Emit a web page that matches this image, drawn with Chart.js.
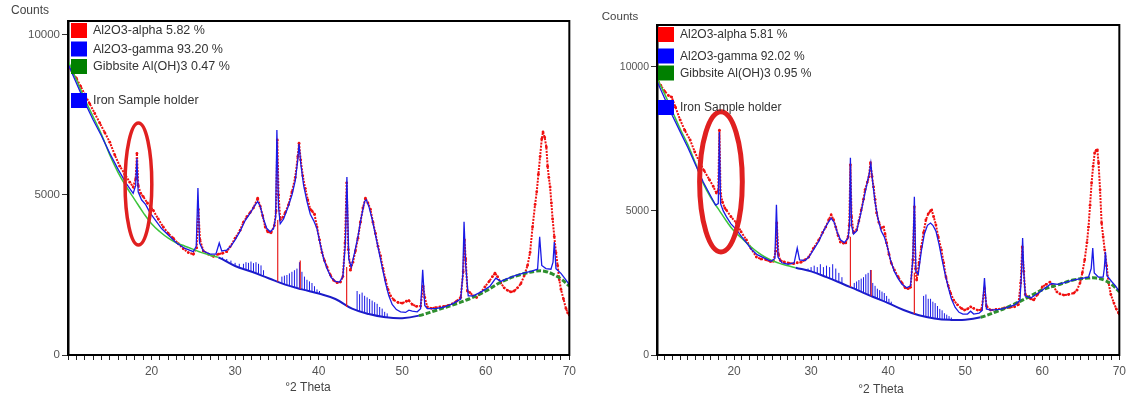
<!DOCTYPE html>
<html><head><meta charset="utf-8">
<script src="https://cdn.jsdelivr.net/npm/chart.js@4.4.1/dist/chart.umd.min.js"></script>
<style>
html,body{margin:0;padding:0;background:#fff;width:1130px;height:401px;overflow:hidden}
#l{position:absolute;left:0;top:0;width:580px;height:401px}
#r{position:absolute;left:580px;top:0;width:550px;height:401px}
</style></head><body>
<div id="l"><canvas id="cl"></canvas></div>
<div id="r"><canvas id="cr"></canvas></div>
<script>
// ---------- shared ----------
const xTickLabels = [20, 30, 40, 50, 60, 70];
const yTickValues = [0, 5000, 10000];
const xAxisTitle = "°2 Theta";
const yAxisTitle = "Counts";

// ---------- LEFT panel ----------
const legendL = ["Al2O3-alpha 5.82 %", "Al2O3-gamma 93.20 %", "Gibbsite Al(OH)3 0.47 %", "Iron Sample holder"];
const obsLx = [10.0,10.5,11.0,11.5,12.0,12.6,13.2,13.8,14.4,15.0,15.6,16.2,16.8,17.4,17.8,18.1,18.25,18.4,18.7,19.0,19.5,20.2,20.8,21.4,22.0,22.6,23.2,23.8,24.4,25.0,25.4,25.6,25.8,26.2,26.8,27.4,28.0,28.5,29.0,29.4,30.0,30.6,31.0,31.4,31.8,32.2,32.7,33.0,33.3,33.6,33.9,34.3,34.7,34.9,35.05,35.2,35.4,35.7,36.0,36.4,36.8,37.2,37.5,37.65,37.85,38.1,38.4,38.7,39.0,39.2,39.5,39.8,40.1,40.4,40.7,41.0,41.4,41.8,42.2,42.6,42.9,43.15,43.35,43.55,43.8,44.1,44.4,44.7,45.0,45.3,45.6,45.9,46.2,46.5,46.8,47.1,47.4,47.7,48.0,48.3,48.6,49.0,49.5,50.0,50.5,50.8,51.2,51.7,52.2,52.5,52.7,53.0,53.5,54.0,54.5,55.0,55.5,56.0,56.5,57.0,57.3,57.45,57.6,57.8,58.1,58.5,58.9,59.4,59.9,60.4,60.8,61.1,61.4,61.8,62.2,62.6,63.0,63.4,63.8,64.2,64.6,65.0,65.3,65.6,65.9,66.1,66.3,66.5,66.7,66.85,67.05,67.25,67.4,67.55,67.7,67.85,68.0,68.2,68.4,68.6,68.8,69.0,69.3,69.6,69.8,70.0];
const obsLy = [9050,8850,8650,8400,8150,7850,7550,7250,6950,6650,6250,5900,5650,5400,5250,5500,6300,5300,5050,4950,4750,4520,4250,4000,3800,3650,3480,3320,3200,3150,3350,4550,3600,3250,3150,3080,3150,3180,3230,3380,3650,3900,4150,4320,4450,4600,4900,4650,4350,4000,3850,3820,4050,4500,6720,5000,4230,4300,4450,4700,5100,5550,6200,6620,6100,5600,5200,4850,4550,4500,4400,4000,3600,3200,2950,2750,2500,2330,2260,2280,2450,3500,5380,3300,2650,2900,3250,3650,4150,4600,4900,4750,4550,4150,3800,3400,3100,2700,2350,2050,1850,1720,1640,1620,1680,1700,1580,1520,1530,2150,1800,1500,1460,1480,1500,1520,1550,1600,1680,1800,2600,3600,3000,2000,1950,1850,1800,1950,2130,2300,2450,2560,2450,2250,2100,2020,1970,2000,2100,2230,2480,2800,3200,4000,4700,5100,5650,6200,6750,6970,6800,6500,5900,5550,5250,4750,4250,3700,3200,2800,2350,2050,1750,1450,1320,1250];
const calcLx = [10.0,11.0,12.0,13.0,14.0,15.0,16.0,17.0,17.8,18.1,18.25,18.4,18.8,19.3,19.8,20.5,21.2,22.0,23.0,24.0,25.0,25.35,25.55,25.75,26.2,27.0,27.7,28.1,28.4,29.0,29.5,30.0,30.6,31.2,31.8,32.3,32.7,33.0,33.4,33.8,34.2,34.6,34.85,35.0,35.2,35.4,35.8,36.3,36.8,37.2,37.5,37.65,37.85,38.2,38.6,39.0,39.4,39.8,40.2,40.6,41.0,41.5,42.0,42.5,42.9,43.2,43.38,43.6,43.9,44.3,44.7,45.1,45.5,45.7,46.0,46.4,46.8,47.2,47.6,48.0,48.4,48.8,49.3,49.8,50.4,50.8,51.2,51.8,52.2,52.45,52.7,53.0,54.0,55.0,56.0,57.0,57.25,57.4,57.6,57.9,58.5,59.5,60.5,61.2,61.8,62.5,63.5,64.5,65.5,66.2,66.45,66.7,67.2,67.8,68.05,68.2,68.4,69.0,69.5,70.0];
const calcLy = [9100,8500,7900,7350,6850,6300,5800,5350,5050,5300,6150,5100,4850,4700,4450,4200,3950,3750,3500,3330,3230,3400,5220,3500,3250,3150,3150,3500,3250,3280,3400,3600,3870,4200,4430,4650,4800,4650,4250,3950,3850,3950,4300,7030,4600,4100,4250,4600,5000,5450,6100,6600,6000,5300,4800,4400,4200,3950,3450,3000,2700,2420,2300,2280,2450,3500,5560,3000,2750,3200,3700,4300,4800,4850,4650,4250,3750,3250,2750,2250,1850,1580,1420,1350,1330,1400,1370,1350,1450,2660,1550,1450,1450,1500,1600,1750,2500,4160,2800,1850,1850,1980,2150,2400,2300,2380,2480,2560,2620,2680,3690,2800,2700,2680,2900,3530,2700,2550,2380,2200];
const bgLx = [10,11,12,13,14,15,16,17,18,19,20,21,22,23,24,25,26,27,28,30,32,34,36,38,40,42,44,46,48,50,52,54,56,58,60,62,64,66,67,68,69,70];
const bgLy = [9200,8600,8000,7450,6900,6250,5700,5250,4850,4450,4100,3850,3650,3500,3400,3300,3200,3120,3050,2780,2600,2400,2200,2050,1920,1750,1450,1280,1180,1150,1230,1390,1560,1750,2000,2300,2500,2620,2620,2530,2380,2150];
const gamLx = [28.5,29.0,29.5,30.0,30.5,31.0,31.3,31.6,31.9,32.2,32.5,32.8,33.1,33.4,35.6,35.9,36.2,36.5,36.8,37.1,37.4,37.7,38.0,38.3,38.6,38.9,39.2,39.5,39.8,40.1,44.6,44.9,45.2,45.5,45.8,46.1,46.4,46.7,47.0,47.3,47.6,47.9,48.2];
const gamLbase = [2990,2930,2860,2780,2740,2690,2660,2630,2610,2590,2570,2540,2510,2480,2240,2210,2180,2150,2120,2090,2070,2050,2040,2020,2000,1990,1970,1950,1930,1910,1400,1370,1350,1330,1310,1290,1270,1250,1230,1220,1200,1190,1180];
const gamLtop = [3050,3000,2950,2880,2850,2850,2900,2880,2920,2870,2900,2850,2800,2650,2450,2480,2500,2550,2600,2650,2700,2900,2600,2450,2350,2300,2250,2150,2050,2000,2000,1900,1950,1850,1800,1750,1700,1650,1600,1500,1450,1350,1300];
const alpLx = [35.1, 37.8, 43.35];
const alpLbase = [2290, 2065, 1500];
const alpLtop = [4220, 2950, 2750];
const ellipseL = {x: 18.43, y: 5344, rx: 1.6, ry: 1906};
const yMaxL = 10437;

// ---------- RIGHT panel ----------
const legendR = ["Al2O3-alpha 5.81 %", "Al2O3-gamma 92.02 %", "Gibbsite Al(OH)3 0.95 %", "Iron Sample holder"];
const obsRx = [10.0,10.5,11.0,11.5,11.9,12.4,13.0,13.6,14.3,14.9,15.5,16.1,16.8,17.3,17.7,17.95,18.1,18.25,18.5,18.8,19.0,19.6,20.3,20.9,21.6,22.2,22.9,23.5,24.2,24.7,25.1,25.4,25.55,25.75,26.0,26.5,27.1,27.7,28.2,28.7,29.2,29.7,30.3,31.0,31.5,31.9,32.3,32.6,32.9,33.2,33.5,33.8,34.2,34.5,34.8,34.95,35.1,35.25,35.5,35.9,36.2,36.5,36.8,37.0,37.3,37.5,37.7,37.9,38.1,38.3,38.5,38.8,39.1,39.4,39.6,39.8,40.1,40.4,40.8,41.3,41.8,42.2,42.6,42.9,43.2,43.4,43.55,43.7,44.0,44.3,44.6,44.9,45.2,45.5,45.65,45.9,46.2,46.5,46.9,47.2,47.5,47.8,48.1,48.5,49.0,49.5,49.9,50.3,50.7,51.1,51.6,52.1,52.5,52.75,53.3,54.0,55.1,55.8,56.4,56.9,57.2,57.4,57.6,57.8,58.1,58.5,58.9,59.4,60.0,60.5,61.0,61.4,61.9,62.3,62.8,63.4,64.1,64.5,64.9,65.2,65.5,65.8,66.0,66.2,66.4,66.6,66.8,67.0,67.15,67.3,67.5,67.7,67.9,68.1,68.35,68.6,68.9,69.3,69.6,69.9,70.0];
const obsRy = [9600,9350,9150,9000,8950,8600,8160,7800,7460,7050,6700,6400,6080,5850,5620,5700,7800,5600,5300,5100,5030,4800,4580,4280,3990,3700,3400,3330,3300,3240,3250,3600,4580,3500,3280,3230,3190,3170,3200,3220,3300,3400,3700,3990,4250,4440,4700,4860,4700,4440,4150,3920,3880,3890,4100,4500,6600,4800,4240,4340,4650,5030,5400,5730,6000,6180,6670,6200,5830,5400,4930,4600,4400,4440,4200,3890,3500,3190,2950,2710,2500,2330,2300,2350,3300,5140,3000,2600,3200,3750,4250,4690,4900,5000,5030,4800,4510,4100,3650,3200,2710,2400,2150,1900,1740,1620,1560,1600,1670,1620,1560,1570,2300,1700,1560,1580,1630,1650,1670,1750,2500,3750,2900,2100,2010,1950,1910,2100,2360,2450,2530,2400,2190,2120,2080,2100,2150,2250,2500,2850,3300,3900,4440,5200,5970,6550,7010,7100,7120,6670,5730,4580,4100,3650,3100,2500,2100,1800,1600,1460,1420];
const calcRx = [10.0,11.0,12.0,13.0,14.0,15.0,16.0,17.0,17.6,17.95,18.1,18.25,18.6,19.0,19.6,20.3,21.0,21.6,22.3,23.0,24.0,24.8,25.3,25.5,25.7,26.2,27.0,27.8,28.2,28.5,29.2,29.7,30.3,31.0,31.6,32.1,32.6,33.0,33.4,33.8,34.3,34.8,34.98,35.1,35.25,35.5,35.9,36.4,36.9,37.3,37.55,37.75,37.95,38.3,38.7,39.1,39.5,39.9,40.3,40.8,41.3,41.8,42.4,42.9,43.2,43.4,43.6,43.9,44.3,44.7,45.1,45.5,45.8,46.2,46.6,47.0,47.4,47.8,48.2,48.7,49.2,49.7,50.3,50.7,51.1,51.8,52.2,52.5,52.75,53.3,54.5,55.5,56.5,57.1,57.3,57.45,57.6,57.8,58.5,59.5,60.5,61.2,62.0,63.0,64.0,65.0,66.0,66.35,66.55,66.75,67.3,67.9,68.05,68.2,68.4,69.0,69.5,70.0];
const calcRy = [9500,8900,8300,7750,7200,6600,6000,5500,5200,5250,7740,5250,5000,4800,4550,4350,4100,3900,3650,3480,3350,3250,3350,5210,3400,3200,3150,3200,3710,3300,3280,3400,3650,3950,4300,4550,4750,4600,4250,4000,3900,4050,4500,6840,4500,4200,4300,4850,5500,6000,6300,6650,6100,5300,4700,4300,4100,3750,3300,2900,2650,2450,2330,2400,3300,5490,2900,2800,3600,4200,4500,4580,4500,4300,3850,3300,2800,2350,1950,1650,1480,1420,1420,1520,1420,1450,1550,2670,1600,1560,1580,1650,1750,1900,2800,4060,2900,2050,1980,2150,2350,2480,2450,2520,2600,2650,2700,3000,3710,2850,2700,2700,3000,3580,2750,2550,2400,2200];
const bgRx = [10,11,12,13,14,15,16,17,18,19,20,21,22,23,24,25,26,27,28,30,32,34,36,38,40,42,44,46,48,50,52,54,56,58,60,62,64,66,67,68,69,70];
const bgRy = [9600,9050,8450,7850,7300,6650,5950,5450,5050,4650,4300,4050,3800,3580,3400,3270,3170,3100,3030,2900,2700,2480,2250,2020,1800,1560,1380,1270,1220,1220,1310,1500,1720,1980,2260,2430,2600,2670,2670,2600,2450,2190];
const gamRx = [29.6,30.0,30.4,30.8,31.2,31.6,32.0,32.4,32.8,33.2,33.6,34.0,35.6,35.9,36.2,36.5,36.8,37.1,37.4,37.7,38.0,38.3,38.6,38.9,39.2,39.5,39.8,40.1,40.4,44.6,44.9,45.2,45.5,45.8,46.1,46.4,46.7,47.0,47.3,47.6,47.9,48.2];
const gamRbase = [2940,2900,2860,2820,2780,2740,2700,2660,2610,2570,2530,2480,2290,2260,2220,2190,2160,2130,2090,2060,2020,1990,1960,1920,1890,1860,1820,1780,1750,1340,1320,1300,1290,1280,1260,1250,1240,1230,1230,1220,1220,1220];
const gamRtop = [3000,3050,3100,3050,3150,3050,3100,3050,3150,3000,2850,2700,2500,2550,2600,2650,2700,2800,2850,2950,2500,2400,2300,2250,2200,2150,2050,1950,1850,2050,2100,1950,1950,1850,1800,1700,1600,1550,1450,1400,1350,1300];
const alpRx = [35.1, 37.8, 43.4];
const alpRbase = [2360, 2040, 1420];
const alpRtop = [4100, 2950, 2850];
const ellipseR = {x: 18.3, y: 6007, rx: 2.77, ry: 2430};
const yMaxR = 11450;

// ---------- styling ----------
const RED = '#f01010', BLUE = '#1a1ae6', GREEN_L = '#3cc43c', GREEN_D = '#2e8f2e', BG_BLUE = '#1c1cc8';
const LEG_COLORS = ['#ff0000', '#0000ff', '#008000', '#0000ff'];
const FONT = '"Liberation Sans", Arial, sans-serif';

function pts(xs, ys) { return xs.map((x, i) => ({x: x, y: ys[i]})); }
function sticks(xs, b, t) {
  const out = [];
  xs.forEach((x, i) => { out.push({x: x, y: b[i]}, {x: x, y: t[i]}, {x: x, y: null}); });
  return out;
}

function makeChart(id, d, lay) {
  const decor = {
    id: 'decor',
    afterDatasetsDraw(chart) {
      const ctx = chart.ctx, a = chart.chartArea, xs = chart.scales.x, ys = chart.scales.y;
      ctx.save();
      // ellipse annotation
      const cx = xs.getPixelForValue(d.ell.x), cy = ys.getPixelForValue(d.ell.y);
      const rx = Math.abs(xs.getPixelForValue(d.ell.x + d.ell.rx) - cx);
      const ry = Math.abs(ys.getPixelForValue(d.ell.y + d.ell.ry) - cy);
      ctx.beginPath(); ctx.ellipse(cx, cy, rx, ry, 0, 0, Math.PI * 2);
      ctx.strokeStyle = '#e02020'; ctx.lineWidth = lay.ellW; ctx.stroke();
      // frame
      ctx.strokeStyle = '#000'; ctx.lineWidth = 2;
      ctx.strokeRect(a.left, a.top, a.right - a.left, a.bottom - a.top);
      // legend
      ctx.font = lay.legFont + 'px ' + FONT; ctx.textBaseline = 'middle'; ctx.textAlign = 'left';
      d.legend.forEach((t, i) => {
        const yc = lay.legY[i];
        ctx.fillStyle = LEG_COLORS[i];
        ctx.fillRect(lay.sqX, yc - 7.5, 16, 15);
        ctx.fillStyle = '#333';
        ctx.fillText(t, lay.txtX, yc + 0.5);
      });
      // titles
      ctx.fillStyle = '#444'; ctx.textAlign = 'center';
      ctx.font = lay.cFont + 'px ' + FONT;
      ctx.fillText(yAxisTitle, lay.countsX, lay.countsY);
      ctx.font = '12px ' + FONT;
      ctx.fillText(xAxisTitle, lay.titleX, lay.titleY);
      ctx.restore();
    }
  };
  return new Chart(document.getElementById(id), {
    type: 'scatter',
    data: {
      datasets: [
        {label: 'calc', data: pts(d.cx, d.cy), showLine: true, borderColor: BLUE, borderWidth: 1.3, pointRadius: 0, order: 1},
        {label: 'alpha sticks', data: sticks(d.ax, d.ab, d.at), showLine: true, spanGaps: false, borderColor: '#e82020', borderWidth: 1.2, pointRadius: 0, order: 2},
        {label: 'gamma sticks', data: sticks(d.gx, d.gb, d.gt), showLine: true, spanGaps: false, borderColor: BLUE, borderWidth: 1, pointRadius: 0, order: 3},
        {label: 'background', data: pts(d.bx, d.by), showLine: true, tension: 0.4, pointRadius: 0, order: 4,
          borderColor: GREEN_L, borderWidth: 1.5,
          segment: {
            borderColor: c => { const x = c.p0.parsed.x; return x < 28 ? GREEN_L : (x < 51 ? BG_BLUE : GREEN_D); },
            borderWidth: c => { const x = c.p0.parsed.x; return x < 28 ? 1.5 : (x < 51 ? 2 : 3); },
            borderDash: c => (c.p0.parsed.x >= 51 ? [5, 2] : undefined)
          }},
        {label: 'obs', data: pts(d.ox, d.oy), showLine: true, borderColor: RED, borderWidth: 2, borderDash: [2, 1.2],
          pointRadius: 1.4, pointBackgroundColor: RED, pointBorderWidth: 0, order: 5}
      ]
    },
    options: {
      responsive: true, maintainAspectRatio: false, animation: false, devicePixelRatio: 1,
      layout: {padding: {left: 0, right: lay.padR, top: lay.padT, bottom: 0}},
      plugins: {legend: {display: false}, tooltip: {enabled: false}, title: {display: false}},
      scales: {
        x: {
          type: 'linear', min: 10, max: 70,
          afterFit: s => { s.height = 46; },
          ticks: {stepSize: 1, autoSkip: false, maxRotation: 0, padding: 4, color: '#555',
            font: {family: FONT, size: 12},
            callback: v => (xTickLabels.includes(v) ? String(v) : '')},
          grid: {drawOnChartArea: false, drawTicks: true, tickLength: 5, color: '#222', lineWidth: 1},
          border: {display: true, color: '#000', width: 2}
        },
        y: {
          type: 'linear', min: 0, max: d.yMax,
          afterFit: s => { s.width = lay.yW; },
          afterBuildTicks: s => { s.ticks = yTickValues.map(v => ({value: v})); },
          ticks: {padding: 2, color: '#555', font: {family: FONT, size: lay.yFont},
            callback: v => String(v)},
          grid: {drawOnChartArea: false, drawTicks: true, tickLength: 6, color: '#333'},
          border: {display: true, color: '#000', width: 2.5}
        }
      }
    },
    plugins: [decor]
  });
}

makeChart('cl', {
  legend: legendL, ox: obsLx, oy: obsLy, cx: calcLx, cy: calcLy, bx: bgLx, by: bgLy,
  gx: gamLx, gb: gamLbase, gt: gamLtop, ax: alpLx, ab: alpLbase, at: alpLtop, ell: ellipseL, yMax: yMaxL
}, {yW: 68, padR: 10, padT: 21, legY: [30.5, 49, 66.5, 100.5], sqX: 71, txtX: 93, legFont: 12.5,
    countsX: 30, countsY: 11, cFont: 12, titleX: 308, titleY: 388, yFont: 11.5, ellW: 3.5});

makeChart('cr', {
  legend: legendR, ox: obsRx, oy: obsRy, cx: calcRx, cy: calcRy, bx: bgRx, by: bgRy,
  gx: gamRx, gb: gamRbase, gt: gamRtop, ax: alpRx, ab: alpRbase, at: alpRtop, ell: ellipseR, yMax: yMaxR
}, {yW: 77, padR: 8, padT: 25, legY: [34.5, 56, 73, 107.5], sqX: 78, txtX: 100, legFont: 12,
    countsX: 40, countsY: 17, cFont: 11.5, titleX: 301, titleY: 390, yFont: 10.5, ellW: 5});
</script>
</body></html>
